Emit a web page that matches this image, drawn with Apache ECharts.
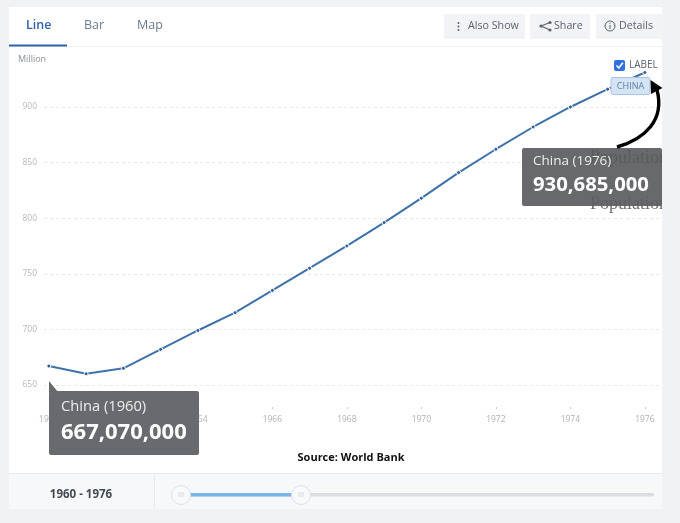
<!DOCTYPE html>
<html>
<head>
<meta charset="utf-8">
<title>China population</title>
<script src="https://cdn.jsdelivr.net/npm/echarts@6/dist/echarts.min.js"></script>
<style>
html, body { margin: 0; padding: 0; background: #f0f2f5; }
#chart { width: 680px; height: 523px; }
</style>
</head>
<body>
<div id="chart"></div>
<script>
var years = [1960, 1961, 1962, 1963, 1964, 1965, 1966, 1967, 1968, 1969, 1970, 1971, 1972, 1973, 1974, 1975, 1976];
var population = [667, 660, 665, 682, 699, 715, 735, 755, 775, 796, 818, 841, 862, 882, 900, 916, 931];
var yTicks = [650, 700, 750, 800, 850, 900];
var xTicks = [1960, 1962, 1964, 1966, 1968, 1970, 1972, 1974, 1976];
var tabs = ['Line', 'Bar', 'Map'];

var uiFont = '"Open Sans", sans-serif';
var calloutFill = 'rgba(91,94,98,0.93)';

function txt(x, y, text, size, color, weight, align, font, z) {
    return {
        type: 'text', x: x, y: y, z: z || 5, silent: true,
        style: {
            text: text, fontSize: size, fill: color, fontWeight: weight || 'normal',
            fontFamily: font || uiFont, align: align || 'left', verticalAlign: 'middle'
        }
    };
}
function box(x, y, w, h, fill, r, z, stroke) {
    return {
        type: 'rect', z: z || 1, silent: true,
        shape: { x: x, y: y, width: w, height: h, r: r || 0 },
        style: { fill: fill, stroke: stroke || null, lineWidth: stroke ? 1 : 0 }
    };
}
function button(x, w, label, labelX) {
    return [box(x, 14, w, 25, '#f1f3f6', 2, 3), txt(labelX, 26, label, 10.7, '#5b6470', 'normal', 'left', uiFont, 5)];
}

var graphics = [
    box(9, 7, 653, 502, '#ffffff', 0, -1),
    box(9, 46, 653, 1, '#eef0f3', 0, 1),
    box(9, 44.5, 58, 2, '#2f62a8', 0, 2),
    txt(26, 25, tabs[0], 12.5, '#2f62a8', '600'),
    txt(84, 25, tabs[1], 12.5, '#6b7a8c'),
    txt(137, 25, tabs[2], 12.5, '#6b7a8c'),
    txt(18, 59, 'Million', 9, '#8a8f96'),

    // top right buttons
    box(457.5, 22, 2, 2, '#5b6470', 1, 5), box(457.5, 25.5, 2, 2, '#5b6470', 1, 5), box(457.5, 29, 2, 2, '#5b6470', 1, 5),
    { type: 'polyline', z: 5, silent: true, shape: { points: [[550, 22.5], [541, 26], [550, 30]] }, style: { fill: null, stroke: '#5b6470', lineWidth: 1.2 } },
    { type: 'circle', z: 5, silent: true, shape: { cx: 550, cy: 22.5, r: 1.6 }, style: { fill: '#5b6470' } },
    { type: 'circle', z: 5, silent: true, shape: { cx: 541, cy: 26, r: 1.6 }, style: { fill: '#5b6470' } },
    { type: 'circle', z: 5, silent: true, shape: { cx: 550, cy: 30, r: 1.6 }, style: { fill: '#5b6470' } },
    { type: 'circle', z: 5, silent: true, shape: { cx: 610, cy: 26, r: 5 }, style: { fill: null, stroke: '#5b6470', lineWidth: 1 } },
    box(609.5, 25, 1, 4, '#5b6470', 0, 5), box(609.5, 22.8, 1, 1, '#5b6470', 0, 5),

    // label checkbox
    box(614, 60, 11, 11, '#2f6fe0', 2, 6),
    { type: 'polyline', z: 7, silent: true, shape: { points: [[616.5, 65.5], [618.8, 68], [622.8, 62.8]] }, style: { fill: null, stroke: '#ffffff', lineWidth: 1.6 } },
    txt(629, 65, 'LABEL', 10, '#5b6470'),
    box(611, 77.5, 39, 17, '#d5e4f5', 2, 6, '#a9c4e4'),
    txt(630.5, 86.5, 'CHINA', 9, '#5b7fa8', 'normal', 'center', uiFont, 7),

    // ghost text behind the right callout
    txt(590, 158, 'Population', 18, '#333333', 'normal', 'left', 'Liberation Serif', 4),
    txt(590, 204, 'Population', 18, '#707070', 'normal', 'left', 'Liberation Serif', 4),
    box(662, 140, 18, 80, '#f0f2f5', 0, 8),

    // arrow from the right callout to the last point
    {
        type: 'bezierCurve', z: 12, silent: true,
        shape: { x1: 617, y1: 147, cpx1: 645, cpy1: 139, cpx2: 665, cpy2: 120, x2: 657, y2: 90 },
        style: { fill: null, stroke: '#000000', lineWidth: 3.4 }
    },
    { type: 'polygon', z: 12, silent: true, shape: { points: [[651, 94], [650.5, 80], [662.5, 88]] }, style: { fill: '#000000' } },

    // callouts
    box(522, 148, 140, 58, calloutFill, 2, 10),
    txt(533, 161.5, 'China (1976)', 13.5, '#eceded', 'normal', 'left', uiFont, 11),
    txt(533, 185.5, '930,685,000', 20.3, '#ffffff', 'bold', 'left', uiFont, 11),
    box(49, 391, 150, 64, '#676a6e', 2, 10),
    { type: 'polygon', z: 10, silent: true, shape: { points: [[49, 381], [49, 392], [58, 392]] }, style: { fill: '#676a6e' } },
    txt(61, 407, 'China (1960)', 14.7, '#eceded', 'normal', 'left', uiFont, 11),
    txt(61, 433, '667,070,000', 22, '#ffffff', 'bold', 'left', uiFont, 11),

    txt(351, 458, 'Source: World Bank', 11, '#111111', 'bold', 'center', uiFont, 5),

    // range footer
    box(9, 473, 653, 36, '#f7f8fa', 0, 1),
    box(9, 473, 653, 1, '#e8eaed', 0, 2),
    box(154, 474, 1, 35, '#e8eaed', 0, 2),
    txt(81, 495, '1960 - 1976', 11.5, '#444a52', 'bold', 'center', uiFont, 5),
    box(181, 493, 473, 3.5, '#d9dce1', 1.5, 3),
    box(181, 493, 120, 3.5, '#7ab5e6', 1.5, 4),
    { type: 'circle', z: 5, silent: true, shape: { cx: 181, cy: 495, r: 9.5 }, style: { fill: '#f8f9fb', stroke: '#dfe2e6', lineWidth: 1 } },
    { type: 'circle', z: 5, silent: true, shape: { cx: 301, cy: 495, r: 9.5 }, style: { fill: '#f8f9fb', stroke: '#dfe2e6', lineWidth: 1 } },
    txt(181, 495, 'III', 7, '#c8ccd2', 'normal', 'center', uiFont, 6),
    txt(301, 495, 'III', 7, '#c8ccd2', 'normal', 'center', uiFont, 6)
].concat(button(444, 81, 'Also Show', 468), button(530, 60, 'Share', 554), button(596, 66, 'Details', 619));

var chart = echarts.init(document.getElementById('chart'), null, { renderer: 'canvas' });
chart.setOption({
    animation: false,
    backgroundColor: 'transparent',
    grid: { left: 44, top: 62.5, width: 618, height: 344.7 },
    xAxis: {
        type: 'value',
        min: 1959.87,
        max: 1976.46,
        axisLine: { show: false },
        axisTick: { show: true, length: 2, customValues: xTicks, lineStyle: { color: '#c8c8c8' } },
        axisLabel: {
            customValues: xTicks,
            margin: 8,
            fontSize: 8.5,
            color: '#b0b0b0',
            fontFamily: uiFont,
            formatter: function (v) { return String(v); }
        },
        splitLine: { show: false }
    },
    yAxis: {
        type: 'value',
        min: 630,
        max: 940,
        axisLine: { show: false },
        axisTick: { show: false, customValues: yTicks },
        axisLabel: { customValues: yTicks, margin: 7, fontSize: 8.5, color: '#b8b8b8', fontFamily: uiFont },
        splitLine: { show: true, lineStyle: { color: '#e8e8e8', type: [3, 3], width: 1 } }
    },
    series: [{
        type: 'line',
        data: years.map(function (y, i) { return [y, population[i]]; }),
        symbol: 'circle',
        symbolSize: 4,
        showAllSymbol: true,
        z: 3,
        lineStyle: { color: '#3f72a8', width: 2 },
        itemStyle: { color: '#2f5f96', borderColor: '#ffffff', borderWidth: 1 }
    }],
    graphic: graphics
});
</script>
</body>
</html>
